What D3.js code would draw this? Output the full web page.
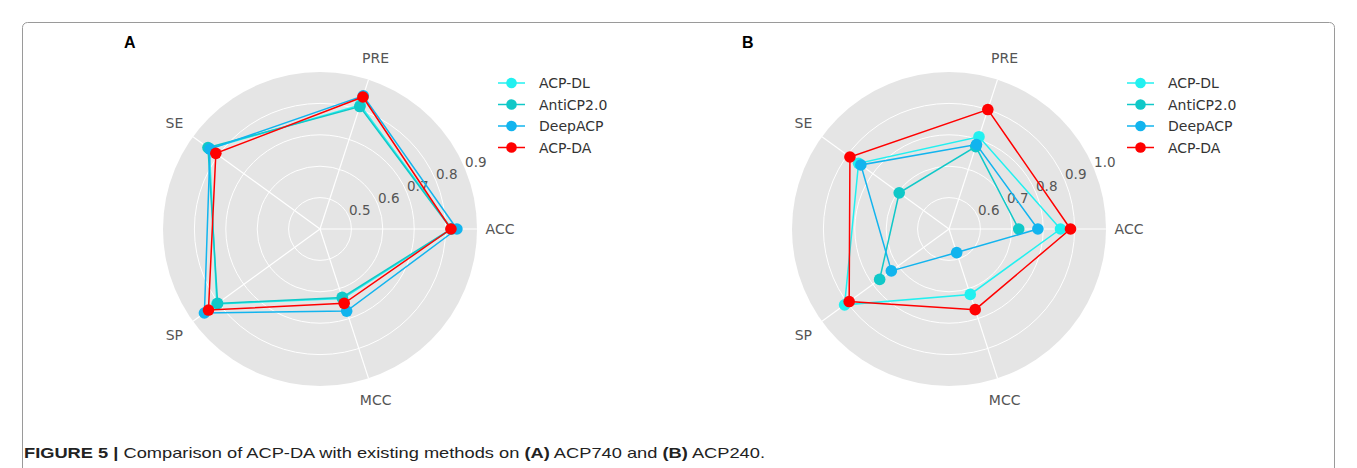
<!DOCTYPE html>
<html><head><meta charset="utf-8">
<script src="https://cdn.jsdelivr.net/npm/d3@7"></script>
<style>body{margin:0;background:#fff}svg{display:block}</style>
</head><body>
<svg id="fig" width="1357" height="468"></svg>
<script>
const categories = ["ACC", "PRE", "SE", "SP", "MCC"];
const seriesNames = ["ACP-DL", "AntiCP2.0", "DeepACP", "ACP-DA"];
const seriesColors = ["#22f0f0", "#10c8c8", "#12b4ee", "#ff0000"];

// Panel A: ACP740
const a_ACPDL    = [0.820, 0.815, 0.836, 0.806, 0.633];
const a_AntiCP   = [0.818, 0.810, 0.841, 0.803, 0.629];
const a_DeepACP  = [0.836, 0.846, 0.833, 0.855, 0.675];
const a_ACPDA    = [0.817, 0.842, 0.810, 0.839, 0.649];
const a_ticks    = [0.5, 0.6, 0.7, 0.8, 0.9];
const a_domain   = [0.4, 0.9];

// Panel B: ACP240
const b_ACPDL    = [0.855, 0.809, 0.856, 0.911, 0.719];
const b_AntiCP   = [0.722, 0.776, 0.696, 0.773, null];
const b_DeepACP  = [0.783, 0.783, 0.847, 0.727, 0.579];
const b_ACPDA    = [0.887, 0.900, 0.890, 0.893, 0.770];
const b_ticks    = [0.6, 0.7, 0.8, 0.9, 1.0];
const b_domain   = [0.5, 1.0];

const svg = d3.select("#fig");
svg.append("rect").attr("width",1357).attr("height",468).attr("fill","#fff");
// figure frame
svg.append("rect").attr("x",22.5).attr("y",22.5).attr("width",1312).attr("height",520)
  .attr("rx",5).attr("fill","none").attr("stroke","#9a9a9a").attr("stroke-width",1);

const R = 157;
const angle = d3.scaleLinear().domain([0, categories.length]).range([0, 2*Math.PI]);
// theta counterclockwise from +x; d3 radial angle clockwise from 12 o'clock
const radialAngle = i => Math.PI/2 - angle(i);

function radar(cx, cy, data, domain, ticks, label, legendX) {
  const g = svg.append("g").attr("transform", `translate(${cx},${cy})`);
  const r = d3.scaleLinear().domain(domain).range([0, R]);
  g.append("circle").attr("r", R).attr("fill", "#e5e5e5");
  g.selectAll("circle.grid").data(ticks.filter(t => r(t) < R - 1)).join("circle")
    .attr("class","grid").attr("r", d => r(d)).attr("fill","none")
    .attr("stroke","#fff").attr("stroke-width",1);
  g.selectAll("line.spoke").data(categories).join("line").attr("class","spoke")
    .attr("x1",0).attr("y1",0)
    .attr("x2",(d,i)=>R*Math.cos(angle(i))).attr("y2",(d,i)=>-R*Math.sin(angle(i)))
    .attr("stroke","#fff").attr("stroke-width",1.2);
  // category labels
  g.selectAll("text.cat").data(categories).join("text").attr("class","cat")
    .attr("x",(d,i)=>180*Math.cos(angle(i))).attr("y",(d,i)=>-180*Math.sin(angle(i)))
    .attr("text-anchor","middle").attr("dominant-baseline","central")
    .attr("font-family","DejaVu Sans").attr("font-size",14).attr("fill","#555")
    .text(d=>d);
  // radial tick labels at 22.5 deg
  const ta = 22.5*Math.PI/180;
  g.selectAll("text.rt").data(ticks).join("text").attr("class","rt")
    .attr("x",d=>r(d)*Math.cos(ta)).attr("y",d=>-r(d)*Math.sin(ta)).attr("dy",-2)
    .attr("font-family","DejaVu Sans").attr("font-size",13.5).attr("fill","#555")
    .text(d=>d.toFixed(1));
  // series
  const line = d3.lineRadial()
    .defined(d => d.v !== null)
    .angle(d => radialAngle(d.i)).radius(d => r(d.v));
  data.forEach((vals, s) => {
    const pts = vals.map((v,i)=>({v,i}));
    pts.push({v: vals[0], i: categories.length});
    g.append("path").datum(pts).attr("d", line).attr("fill","none")
      .attr("stroke", seriesColors[s]).attr("stroke-width",1.5);
    g.selectAll(null).data(pts.slice(0,-1).filter(d=>d.v!==null)).join("circle")
      .attr("cx", d => r(d.v)*Math.cos(angle(d.i)))
      .attr("cy", d => -r(d.v)*Math.sin(angle(d.i)))
      .attr("r", 5.8).attr("fill", seriesColors[s]);
  });
  // legend
  const lg = svg.append("g");
  seriesNames.forEach((n, s) => {
    const y = 83 + s*21.5;
    lg.append("line").attr("x1",legendX).attr("x2",legendX+27).attr("y1",y).attr("y2",y)
      .attr("stroke",seriesColors[s]).attr("stroke-width",1.5);
    lg.append("circle").attr("cx",legendX+13.5).attr("cy",y).attr("r",5.3).attr("fill",seriesColors[s]);
    lg.append("text").attr("x",legendX+41).attr("y",y).attr("dominant-baseline","central")
      .attr("font-family","DejaVu Sans").attr("font-size",14).attr("fill","#333").text(n);
  });
  svg.append("text").attr("x", label.x).attr("y", label.y)
    .attr("font-family","Liberation Sans").attr("font-weight","bold").attr("font-size",16)
    .attr("fill","#000").text(label.t);
}

radar(320, 229, [a_ACPDL, a_AntiCP, a_DeepACP, a_ACPDA], a_domain, a_ticks, {x:124,y:48,t:"A"}, 498);
radar(949, 229, [b_ACPDL, b_AntiCP, b_DeepACP, b_ACPDA], b_domain, b_ticks, {x:742,y:48,t:"B"}, 1127);

// caption
const cap = svg.append("text").attr("x",24).attr("y",458)
  .attr("font-family","Liberation Sans Narrow, Liberation Sans, Arial").attr("font-size",15)
  .attr("fill","#222").attr("textLength",741).attr("lengthAdjust","spacingAndGlyphs");
cap.append("tspan").attr("font-weight","bold").text("FIGURE 5 | ");
cap.append("tspan").text("Comparison of ACP-DA with existing methods on ");
cap.append("tspan").attr("font-weight","bold").text("(A)");
cap.append("tspan").text(" ACP740 and ");
cap.append("tspan").attr("font-weight","bold").text("(B)");
cap.append("tspan").text(" ACP240.");
</script>
</body></html>
